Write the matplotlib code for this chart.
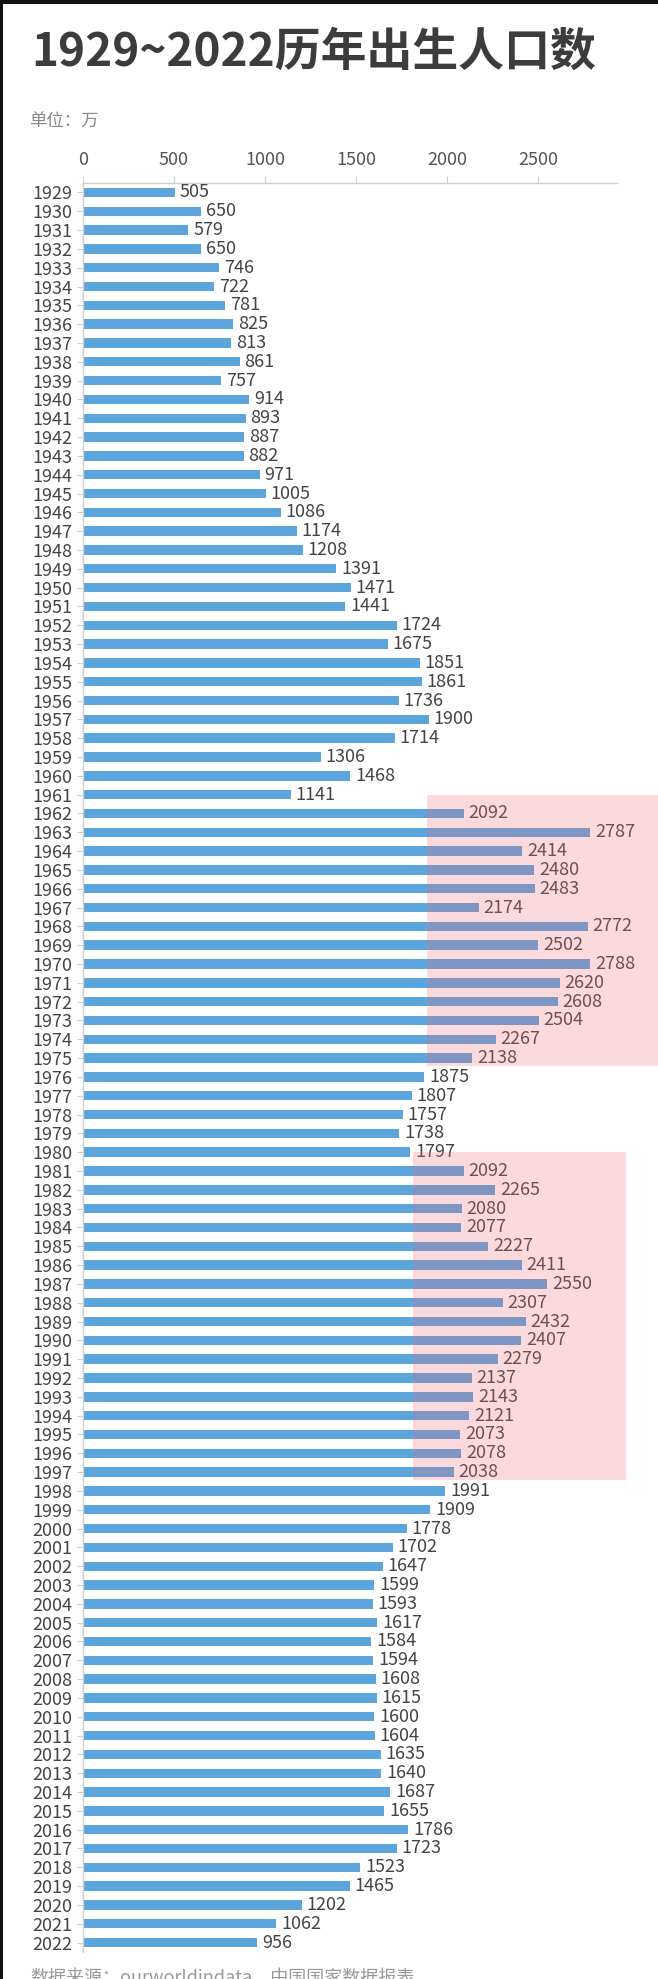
import matplotlib
matplotlib.use('Agg')
import matplotlib.pyplot as plt
from matplotlib.patches import Rectangle

plt.rcParams['font.family'] = ['Noto Sans CJK SC', 'DejaVu Sans']

# data, 万
years = list(range(1929, 2023))
births = [505, 650, 579, 650, 746, 722, 781, 825, 813, 861,
          757, 914, 893, 887, 882, 971, 1005, 1086, 1174, 1208,
          1391, 1471, 1441, 1724, 1675, 1851, 1861, 1736, 1900, 1714,
          1306, 1468, 1141, 2092, 2787, 2414, 2480, 2483, 2174, 2772,
          2502, 2788, 2620, 2608, 2504, 2267, 2138, 1875, 1807, 1757,
          1738, 1797, 2092, 2265, 2080, 2077, 2227, 2411, 2550, 2307,
          2432, 2407, 2279, 2137, 2143, 2121, 2073, 2078, 2038, 1991,
          1909, 1778, 1702, 1647, 1599, 1593, 1617, 1584, 1594, 1608,
          1615, 1600, 1604, 1635, 1640, 1687, 1655, 1786, 1723, 1523,
          1465, 1202, 1062, 956]
x_ticks = [0, 500, 1000, 1500, 2000, 2500]

# highlighted periods: (first year, last year, from value, to value)
highlights = [(1962, 1975, 1890, 3160),
              (1981, 1997, 1813, 2984)]

title = '1929~2022历年出生人口数'
unit = '单位：万'
source = '数据来源：ourworldindata、中国国家数据报表'

W, H = 658, 1979
fig = plt.figure(figsize=(W / 100, H / 100), dpi=100)
ax = fig.add_axes([83 / W, 1 - 1952 / H, (617 - 83) / W, (1952 - 183) / H])

ax.barh(years, births, height=0.5, color='#5ba4dc', zorder=2)
for y, v in zip(years, births):
    ax.annotate(str(v), (v, y), xytext=(3.5, 0), textcoords='offset points',
                va='center', ha='left', fontsize=13, color='#444444', zorder=3)

for y0, y1, v0, v1 in highlights:
    ax.add_patch(Rectangle((v0, y0 - 1.0), v1 - v0, (y1 - y0) + 1.4,
                           facecolor=(0.94, 0.43, 0.47), alpha=0.25,
                           linewidth=0, zorder=5, clip_on=False))

ax.set_ylim(2022.5, 1928.5)
ax.set_xlim(0, 2934)
ax.xaxis.tick_top()
ax.set_xticks(x_ticks)
ax.set_yticks(years)
for s in ['right', 'bottom']:
    ax.spines[s].set_visible(False)
for s in ['top', 'left']:
    ax.spines[s].set_color('#cfcfcf')
    ax.spines[s].set_linewidth(1)
ax.tick_params(axis='x', length=5, color='#cfcfcf', pad=5,
               labelsize=13, labelcolor='#555555')
ax.tick_params(axis='y', length=4, color='#cfcfcf', pad=3.5,
               labelsize=13, labelcolor='#444444')

fig.text(31 / W, 1 - 30 / H, title, fontsize=33, fontweight='bold',
         color='#3c3c3c', va='top', ha='left')
fig.text(29 / W, 1 - 122 / H, unit, fontsize=12.5, color='#888888',
         va='center', ha='left')
fig.text(30 / W, 1 - 1970 / H, source, fontsize=13, color='#999999',
         va='top', ha='left')

# dark frame on the left and top edge
fig.patches.append(Rectangle((0, 0), 3 / W, 1, transform=fig.transFigure,
                             facecolor='#111111', linewidth=0))
fig.patches.append(Rectangle((0, 1 - 4 / H), 1, 4 / H, transform=fig.transFigure,
                             facecolor='#111111', linewidth=0))

fig.savefig('out.png', dpi=100)
